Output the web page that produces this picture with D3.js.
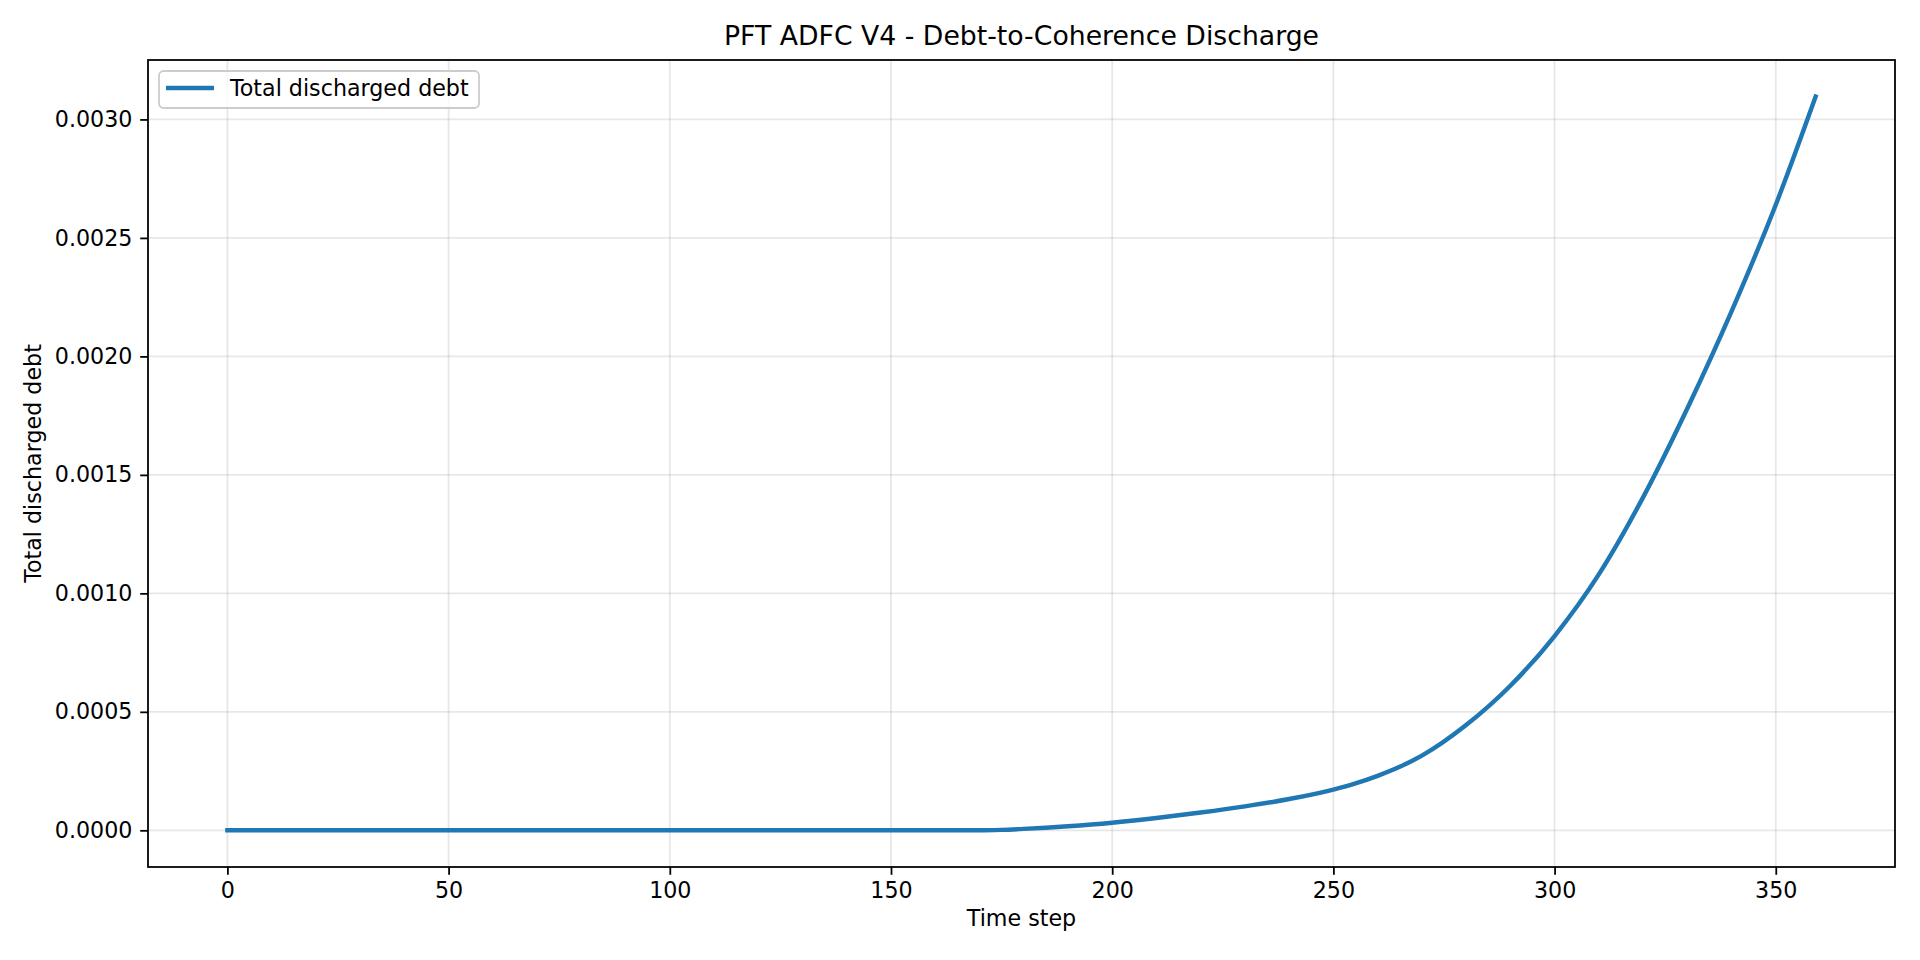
<!DOCTYPE html>
<html>
<head>
<meta charset="utf-8">
<script src="https://cdn.jsdelivr.net/npm/d3@7"></script>
<style>
  html, body { margin: 0; padding: 0; background: #fff; }
  svg { display: block; font-family: "DejaVu Sans", sans-serif; }
</style>
</head>
<body>
<svg id="chart" width="1920" height="960"></svg>
<script>
"use strict";

// values (time step, total discharged debt)
const timeSteps = [0, 100, 160, 170, 175, 180, 185, 190, 200, 210, 220, 230, 240, 250, 255, 260, 265, 270, 280, 290, 300, 310, 320, 330, 340, 350, 359];
const dischargedDebt = [0, 0, 0, 0, 0.000002, 0.000006, 0.000011, 0.000017, 0.000032, 0.000052, 0.000075, 0.000101, 0.000132, 0.000172, 0.000198, 0.000230, 0.000268, 0.000315, 0.000444, 0.000610, 0.000820, 0.001080, 0.001405, 0.001780, 0.002190, 0.002640, 0.003096];
const xTicks = [0, 50, 100, 150, 200, 250, 300, 350];
const yTicks = [0, 0.0005, 0.001, 0.0015, 0.002, 0.0025, 0.003];

const seriesName = "Total discharged debt";
const title = "PFT ADFC V4 - Debt-to-Coherence Discharge";
const xLabel = "Time step";
const yLabel = "Total discharged debt";

const W = 1920, H = 960;
const margin = { top: 60, right: 25, bottom: 93, left: 148 };
const iw = W - margin.left - margin.right;
const ih = H - margin.top - margin.bottom;

// sizes at 160 dpi
const fontSize = 22.2;
const titleSize = 26.7;
const thin = 1.78;
const tickLen = 7.78;

const data = timeSteps.map((t, i) => ({ t, v: dischargedDebt[i] }));

// matplotlib-like 5% margins
const xExt = d3.extent(timeSteps);
const yExt = d3.extent(dischargedDebt);
const xPad = (xExt[1] - xExt[0]) * 0.05;
const yPad = (yExt[1] - yExt[0]) * 0.05;

const x = d3.scaleLinear().domain([xExt[0] - xPad, xExt[1] + xPad]).range([0, iw]);
const y = d3.scaleLinear().domain([yExt[0] - yPad, yExt[1] + yPad]).range([ih, 0]);

const svg = d3.select("#chart");
const g = svg.append("g").attr("transform", `translate(${margin.left},${margin.top})`);

// grid
g.append("g")
  .selectAll("line.vgrid")
  .data(xTicks)
  .join("line")
  .attr("x1", (d) => x(d)).attr("x2", (d) => x(d))
  .attr("y1", 0).attr("y2", ih)
  .attr("stroke", "#b0b0b0").attr("stroke-opacity", 0.3).attr("stroke-width", thin);

g.append("g")
  .selectAll("line.hgrid")
  .data(yTicks)
  .join("line")
  .attr("x1", 0).attr("x2", iw)
  .attr("y1", (d) => y(d)).attr("y2", (d) => y(d))
  .attr("stroke", "#b0b0b0").attr("stroke-opacity", 0.3).attr("stroke-width", thin);

// line
const line = d3.line().x((d) => x(d.t)).y((d) => y(d.v)).curve(d3.curveMonotoneX);

g.append("path")
  .datum(data)
  .attr("d", line)
  .attr("fill", "none")
  .attr("stroke", "#1f77b4")
  .attr("stroke-width", 4.44)
  .attr("stroke-linecap", "square");

// axes
const xAxis = d3.axisBottom(x).tickValues(xTicks).tickFormat(d3.format("d")).tickSizeInner(tickLen).tickSizeOuter(0).tickPadding(tickLen);
const yAxis = d3.axisLeft(y).tickValues(yTicks).tickFormat(d3.format(".4f")).tickSizeInner(tickLen).tickSizeOuter(0).tickPadding(tickLen);

const gx = g.append("g").attr("transform", `translate(0,${ih})`).call(xAxis);
const gy = g.append("g").call(yAxis);

[gx, gy].forEach((ax) => {
  ax.select(".domain").remove();
  ax.selectAll(".tick line").attr("stroke", "#000").attr("stroke-width", thin);
  ax.selectAll(".tick text").attr("fill", "#000").attr("font-size", fontSize).attr("font-family", "DejaVu Sans");
});

// frame
g.append("rect")
  .attr("width", iw).attr("height", ih)
  .attr("fill", "none").attr("stroke", "#000").attr("stroke-width", thin);

// labels
svg.append("text")
  .attr("x", margin.left + iw / 2).attr("y", 45)
  .attr("text-anchor", "middle").attr("font-size", titleSize)
  .text(title);

svg.append("text")
  .attr("x", margin.left + iw / 2).attr("y", 926)
  .attr("text-anchor", "middle").attr("font-size", fontSize)
  .text(xLabel);

svg.append("text")
  .attr("transform", `translate(41,${margin.top + ih / 2}) rotate(-90)`)
  .attr("text-anchor", "middle").attr("font-size", fontSize)
  .text(yLabel);

// legend
const lg = svg.append("g").attr("transform", "translate(159,71)");
lg.append("rect")
  .attr("width", 320).attr("height", 37).attr("rx", 4.4)
  .attr("fill", "#fff").attr("fill-opacity", 0.8)
  .attr("stroke", "#cccccc").attr("stroke-width", thin);
lg.append("line")
  .attr("x1", 7).attr("x2", 55).attr("y1", 17).attr("y2", 17)
  .attr("stroke", "#1f77b4").attr("stroke-width", 4.44);
lg.append("text")
  .attr("x", 71).attr("y", 25)
  .attr("font-size", fontSize)
  .text(seriesName);
</script>
</body>
</html>
